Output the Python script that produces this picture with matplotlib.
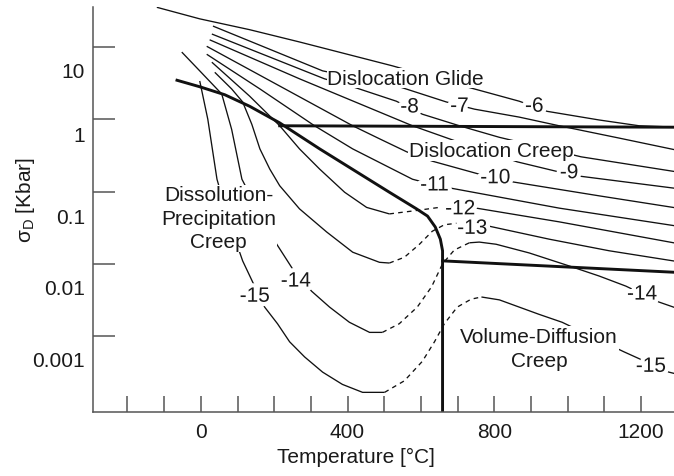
import matplotlib
matplotlib.use('Agg')
import matplotlib.pyplot as plt
import matplotlib.patheffects as pe
import matplotlib.transforms as mtransforms
import numpy as np

plt.rcParams['font.family'] = ['Liberation Sans', 'DejaVu Sans']

# temperatures in degC, stresses as log10(kbar)

# mechanism field boundaries
glide_creep_T = [215, 1300]
glide_creep_logS = [-0.09, -0.11]

dp_bound_T = [-65, -3, 65, 133, 215, 324, 514, 588, 618, 639, 653, 659, 659]
dp_bound_logS = [0.54, 0.45, 0.34, 0.18, -0.05, -0.41, -1.01, -1.24, -1.34, -1.49, -1.66, -1.82, -4.3]

vd_bound_T = [659, 1300]
vd_bound_logS = [-1.96, -2.12]

# strain rate contours (log10 1/s)
c6_T = [-120, -3, 133, 269, 522, 724, 868, 944, 1086, 1195, 1300]
c6_logS = [1.55, 1.39, 1.24, 1.07, 0.74, 0.45, 0.25, 0.11, -0.01, -0.09, -0.11]

c7_T = [33, 332, 541, 669, 746, 868, 977, 1140, 1300]
c7_logS = [1.29, 0.67, 0.45, 0.24, 0.14, 0.03, -0.09, -0.26, -0.43]

c8_T = [30, 337, 414, 533, 604, 705, 814, 1037, 1300]
c8_logS = [1.18, 0.56, 0.45, 0.25, 0.07, -0.09, -0.25, -0.52, -0.73]

c9_T = [24, 269, 577, 705, 863, 969, 1037, 1300]
c9_logS = [1.10, 0.56, -0.09, -0.32, -0.59, -0.72, -0.79, -0.96]

c10_T = [16, 215, 414, 487, 561, 631, 759, 805, 854, 1086, 1300]
c10_logS = [1.01, 0.46, -0.09, -0.27, -0.45, -0.58, -0.76, -0.83, -0.87, -1.06, -1.23]

c11_T = [16, 161, 310, 414, 577, 637, 678, 977, 1300]
c11_logS = [0.90, 0.42, -0.09, -0.41, -0.83, -0.91, -0.95, -1.23, -1.48]

c12_T = [30, 133, 215, 269, 324, 392, 452, 514]
c12_logS = [0.79, 0.32, -0.09, -0.41, -0.69, -1.01, -1.22, -1.31]
c12_dash_T = [514, 577, 650]
c12_dash_logS = [-1.31, -1.27, -1.22]
c12_hot_T = [751, 977, 1300]
c12_hot_logS = [-1.23, -1.42, -1.72]

c13_T = [38, 84, 114, 139, 161, 188, 215, 269, 343, 414, 487, 514]
c13_logS = [0.65, 0.42, 0.24, -0.07, -0.41, -0.69, -0.92, -1.24, -1.56, -1.84, -1.98, -1.99]
c13_dash_T = [514, 555, 596, 631, 664, 697]
c13_dash_logS = [-1.99, -1.91, -1.73, -1.55, -1.46, -1.44]
c13_hot_T = [786, 950, 1113, 1300]
c13_hot_logS = [-1.48, -1.66, -1.82, -1.97]

c14_T = [-52, -3, 57, 84, 112, 161, 207, 250, 302, 351, 405, 460, 495]
c14_logS = [0.93, 0.67, 0.35, -0.14, -0.83, -1.31, -1.73, -2.07, -2.38, -2.60, -2.81, -2.95, -2.95]
c14_dash_T = [495, 541, 590, 629, 659, 691, 732]
c14_dash_logS = [-2.95, -2.83, -2.60, -2.32, -2.00, -1.81, -1.71]
c14_hot_T = [732, 759, 805, 895, 1004, 1086, 1159, 1249, 1300]
c14_hot_logS = [-1.71, -1.70, -1.73, -1.85, -2.03, -2.17, -2.31, -2.53, -2.62]

c15_T = [-3, 19, 44, 79, 114, 141, 174, 209, 242, 283, 332, 386, 441, 501]
c15_logS = [0.53, 0.00, -0.83, -1.45, -1.96, -2.25, -2.60, -2.83, -3.08, -3.29, -3.50, -3.67, -3.78, -3.78]
c15_dash_T = [501, 555, 604, 637, 664, 699, 737, 765]
c15_dash_logS = [-3.78, -3.62, -3.35, -3.08, -2.83, -2.60, -2.49, -2.46]
c15_hot_T = [765, 814, 922, 985, 1059, 1154, 1276, 1300]
c15_hot_logS = [-2.46, -2.50, -2.70, -2.81, -2.99, -3.22, -3.50, -3.53]

# contour labels
label_text = ['-6', '-7', '-8', '-9', '-10', '-11', '-12', '-13', '-14', '-14', '-15', '-15']
label_T = [909, 705, 569, 1004, 803, 637, 707, 740, 259, 1203, 147, 1227]
label_logS = [0.18, 0.18, 0.17, -0.74, -0.81, -0.91, -1.24, -1.51, -2.24, -2.42, -2.45, -3.42]

# mechanism field names
field_names = ['Dislocation Glide', 'Dislocation Creep',
               'Dissolution-\nPrecipitation\nCreep', 'Volume-Diffusion\nCreep']
field_T = [558, 792, 49, 922]
field_logS = [0.49, -0.51, -1.37, -3.17]

x_ticks = list(range(-200, 1201, 100))
x_tick_labels = [str(t) if t in (0, 400, 800, 1200) else '' for t in x_ticks]
y_ticks = [1e-3, 1e-2, 1e-1, 1, 10]
y_tick_labels = ['0.001', '0.01', '0.1', '1', '10']
y_label_drop = [23, 23, 24, 14, 22]  # px, labels sit below their ticks

fig = plt.figure(figsize=(6.74, 4.77), dpi=100)
ax = fig.add_axes([93/674, 64/477, 581/674, 405/477])

thin = dict(color='#111111', lw=0.95, solid_capstyle='butt')
dash = dict(color='#111111', lw=0.95, ls=(0, (3.5, 3.2)))
thick = dict(color='#111111', lw=2.1, solid_joinstyle='round')

def S(v):
    return 10 ** np.array(v)

solid_lines = [(c6_T, c6_logS), (c7_T, c7_logS), (c8_T, c8_logS), (c9_T, c9_logS),
               (c10_T, c10_logS), (c11_T, c11_logS), (c12_T, c12_logS), (c12_hot_T, c12_hot_logS),
               (c13_T, c13_logS), (c13_hot_T, c13_hot_logS), (c14_T, c14_logS), (c14_hot_T, c14_hot_logS),
               (c15_T, c15_logS), (c15_hot_T, c15_hot_logS)]
for t, s in solid_lines:
    ax.plot(t, S(s), **thin)

for t, s in [(c12_dash_T, c12_dash_logS), (c13_dash_T, c13_dash_logS),
             (c14_dash_T, c14_dash_logS), (c15_dash_T, c15_dash_logS)]:
    ax.plot(t, S(s), **dash)

ax.plot(glide_creep_T, S(glide_creep_logS), **thick)
ax.plot(dp_bound_T, S(dp_bound_logS), **thick)
ax.plot(vd_bound_T, S(vd_bound_logS), **thick)

halo = [pe.withStroke(linewidth=6, foreground='white')]
for txt, t, s in zip(label_text, label_T, label_logS):
    ax.text(t, 10 ** s, txt, ha='center', va='center', fontsize=15, color='#1a1a1a',
            path_effects=halo, zorder=5)

for txt, t, s in zip(field_names, field_T, field_logS):
    va = 'baseline' if '\n' not in txt else 'center'
    ax.text(t, 10 ** s, txt, ha='center', va=va, fontsize=15, color='#1a1a1a',
            linespacing=1.3, zorder=4,
            bbox=dict(facecolor='white', edgecolor='none', pad=0.5))

ax.set_xlim(-294, 1290)
ax.set_yscale('log')
ax.set_ylim(10 ** -4.052, 10 ** 1.554)

for side in ['top', 'right']:
    ax.spines[side].set_visible(False)
for side in ['left', 'bottom']:
    ax.spines[side].set_color('#555555')
    ax.spines[side].set_linewidth(1.1)

ax.set_xticks(x_ticks, x_tick_labels)
ax.set_yticks(y_ticks, y_tick_labels)
ax.yaxis.set_minor_locator(matplotlib.ticker.NullLocator())
ax.tick_params(axis='x', direction='in', length=11.5, width=1.1, color='#555555',
               pad=7, labelsize=15, labelcolor='#1a1a1a')
ax.tick_params(axis='y', direction='in', length=15.8, width=1.1, color='#555555',
               pad=5.8, labelsize=15, labelcolor='#1a1a1a')

for lab, dy in zip(ax.get_yticklabels(), y_label_drop):
    lab.set_transform(lab.get_transform() +
                      mtransforms.ScaledTranslation(0, -dy / fig.dpi, fig.dpi_scale_trans))

ax.set_xlabel('Temperature [°C]', fontsize=15, color='#1a1a1a')
ax.xaxis.set_label_coords(0.4527, -0.086)
ax.set_ylabel('$\\mathregular{σ_D}$ [Kbar]', fontsize=15, color='#1a1a1a')
ax.yaxis.set_label_coords(-0.096, 0.526)

fig.savefig('out.png', dpi=100)
